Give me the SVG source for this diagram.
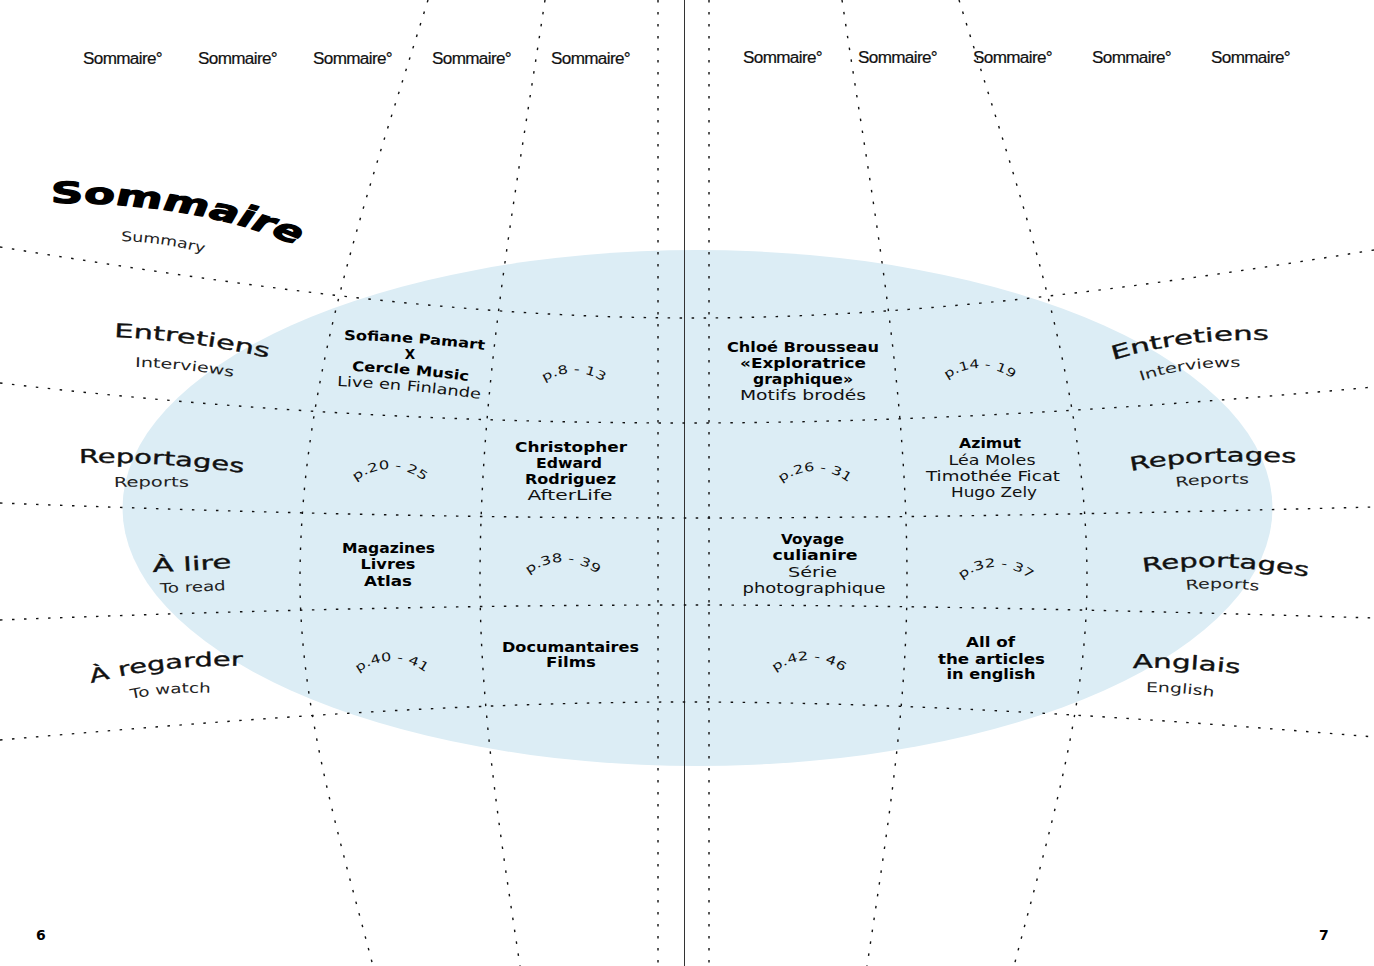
<svg xmlns="http://www.w3.org/2000/svg" width="1374" height="966" viewBox="0 0 1374 966">
<style>
.dot{fill:none;stroke:#111;stroke-width:1.4;stroke-dasharray:2.5 9.5}
.hdr{font-family:"Liberation Sans",Arial,sans-serif;font-size:16px;letter-spacing:-0.6px;fill:#111;stroke:#111;stroke-width:0.2}
.ttl{font-family:"DejaVu Sans",sans-serif;font-weight:bold;font-size:29px;fill:#000;stroke:#000;stroke-width:1.2;stroke-linejoin:round}
.lbl{font-family:"DejaVu Sans",sans-serif;font-size:19px;fill:#111;stroke:#111;stroke-width:0.35}
.sub{font-family:"DejaVu Sans",sans-serif;font-size:13.5px;fill:#222}
.b{font-family:"DejaVu Sans",sans-serif;font-weight:bold;font-size:13.5px;fill:#000}
.r{font-family:"DejaVu Sans",sans-serif;font-size:14px;fill:#111}
.pg{font-family:"DejaVu Sans",sans-serif;font-size:12px;fill:#111}
.num{font-family:"DejaVu Sans",sans-serif;font-weight:bold;font-size:14px;fill:#000}
</style>
<defs>
<path id="pTitle" d="M32.9,203 C83.9,202 148.4,213 196.8,250"/>
<path id="pSum" d="M121,241 Q162,242 204,253"/>
<path id="pEntL" d="M114,337 Q190,340 268,358"/>
<path id="pIntL" d="M135,367 Q185,368 234,377"/>
<path id="pRepL" d="M79,463 Q160,461 243,473"/>
<path id="pRepsL" d="M114,487 Q151,486 189,487"/>
<path id="pLire" d="M153,572 Q192,571 232,568"/>
<path id="pRead" d="M160,593 Q193,592 226,590"/>
<path id="pReg" d="M91,683 Q165,664 242,666"/>
<path id="pWatch" d="M131,699 Q170,691 210,693"/>
<path id="pEntR" d="M1113,360 Q1185,338 1268,340"/>
<path id="pIntR" d="M1141,381 Q1185,366 1241,367"/>
<path id="pRepR1" d="M1131,471 Q1200,458 1297,463"/>
<path id="pRepsR1" d="M1176,487 Q1212,482 1249,484"/>
<path id="pRepR2" d="M1143,572 Q1220,560 1308,577"/>
<path id="pRepsR2" d="M1186,590 Q1222,586 1259,591"/>
<path id="pAng" d="M1133,668 Q1185,667 1240,674"/>
<path id="pEng" d="M1146,692 Q1180,692 1214,697"/>
<path id="pSof" d="M344,340 Q414,341 485,350"/>
<path id="pCer" d="M352,371 Q410,373 469,381"/>
<path id="pLive" d="M337,386 Q408,389 481,399"/>
<path id="a1" d="M526.4,400.5 A55,55 0 0 1 621.6,400.5"/>
<path id="a2" d="M932.4,395.5 A55,55 0 0 1 1027.6,395.5"/>
<path id="a3" d="M342.4,496.5 A55,55 0 0 1 437.6,496.5"/>
<path id="a4" d="M767.4,498.5 A55,55 0 0 1 862.6,498.5"/>
<path id="a5" d="M515.4,589.5 A55,55 0 0 1 610.6,589.5"/>
<path id="a6" d="M948.4,594.5 A55,55 0 0 1 1043.6,594.5"/>
<path id="a7" d="M344.4,688.5 A55,55 0 0 1 439.6,688.5"/>
<path id="a8" d="M761.4,687.5 A55,55 0 0 1 856.6,687.5"/>
</defs>

<rect width="1374" height="966" fill="#fff"/>
<ellipse id="globe" cx="697.5" cy="508" rx="575" ry="258" fill="#dcedf5"/>

<g id="connectors">
<line x1="684.5" y1="0" x2="684.5" y2="966" stroke="#333" stroke-width="1"/>
<path class="dot" d="M428,0 C366,200 300,380 300,580 C300,710 339,836 373,966"/>
<path class="dot" d="M545,0 C515,200 480,380 480,580 C480,710 500.5,836 520,966"/>
<path class="dot" d="M658,0 L658,966"/>
<path class="dot" d="M709,0 L709,966"/>
<path class="dot" d="M842,0 C872,200 907,380 907,580 C907,710 886.5,836 867,966"/>
<path class="dot" d="M959,0 C1021,200 1087,380 1087,580 C1087,710 1048,836 1014,966"/>
<path class="dot" d="M0,247 C230,284 460,318 690,318 C920,318 1144,287 1374,250"/>
<path class="dot" d="M0,383 C230,410 460,423 685,423 C910,423 1144,408 1374,387"/>
<path class="dot" d="M0,503 C230,512 460,518 685,518 C910,518 1144,513 1374,507"/>
<path class="dot" d="M0,620 C230,611 460,605 685,605 C910,605 1144,611 1374,618"/>
<path class="dot" d="M0,740 C230,720 460,702 685,702 C910,702 1144,718 1374,737"/>
</g>

<g id="header">
<text class="hdr" x="83" y="64" textLength="79" lengthAdjust="spacingAndGlyphs">Sommaire°</text>
<text class="hdr" x="198" y="64" textLength="79" lengthAdjust="spacingAndGlyphs">Sommaire°</text>
<text class="hdr" x="313" y="64" textLength="79" lengthAdjust="spacingAndGlyphs">Sommaire°</text>
<text class="hdr" x="432" y="64" textLength="79" lengthAdjust="spacingAndGlyphs">Sommaire°</text>
<text class="hdr" x="551" y="64" textLength="79" lengthAdjust="spacingAndGlyphs">Sommaire°</text>
<text class="hdr" x="743" y="63" textLength="79" lengthAdjust="spacingAndGlyphs">Sommaire°</text>
<text class="hdr" x="858" y="63" textLength="79" lengthAdjust="spacingAndGlyphs">Sommaire°</text>
<text class="hdr" x="973" y="63" textLength="79" lengthAdjust="spacingAndGlyphs">Sommaire°</text>
<text class="hdr" x="1092" y="63" textLength="79" lengthAdjust="spacingAndGlyphs">Sommaire°</text>
<text class="hdr" x="1211" y="63" textLength="79" lengthAdjust="spacingAndGlyphs">Sommaire°</text>
</g>

<g id="title">
<g transform="scale(1.55,1)">
<text class="ttl"><textPath href="#pTitle">Sommaire</textPath></text>
</g>
<text class="sub"><textPath href="#pSum" textLength="84" lengthAdjust="spacingAndGlyphs">Summary</textPath></text>
</g>

<g id="row-entretiens-left">
<text class="lbl"><textPath href="#pEntL" textLength="156" lengthAdjust="spacingAndGlyphs">Entretiens</textPath></text>
<text class="sub"><textPath href="#pIntL" textLength="99" lengthAdjust="spacingAndGlyphs">Interviews</textPath></text>
</g>
<g id="row-reportages-left">
<text class="lbl"><textPath href="#pRepL" textLength="165" lengthAdjust="spacingAndGlyphs">Reportages</textPath></text>
<text class="sub"><textPath href="#pRepsL" textLength="75" lengthAdjust="spacingAndGlyphs">Reports</textPath></text>
</g>
<g id="row-alire">
<text class="lbl"><textPath href="#pLire" textLength="79" lengthAdjust="spacingAndGlyphs">À lire</textPath></text>
<text class="sub"><textPath href="#pRead" textLength="66" lengthAdjust="spacingAndGlyphs">To read</textPath></text>
</g>
<g id="row-aregarder">
<text class="lbl"><textPath href="#pReg" textLength="153" lengthAdjust="spacingAndGlyphs">À regarder</textPath></text>
<text class="sub"><textPath href="#pWatch" textLength="80" lengthAdjust="spacingAndGlyphs">To watch</textPath></text>
</g>
<g id="row-entretiens-right">
<text class="lbl"><textPath href="#pEntR" textLength="158" lengthAdjust="spacingAndGlyphs">Entretiens</textPath></text>
<text class="sub"><textPath href="#pIntR" textLength="101" lengthAdjust="spacingAndGlyphs">Interviews</textPath></text>
</g>
<g id="row-reportages-right-1">
<text class="lbl"><textPath href="#pRepR1" textLength="166" lengthAdjust="spacingAndGlyphs">Reportages</textPath></text>
<text class="sub"><textPath href="#pRepsR1" textLength="73" lengthAdjust="spacingAndGlyphs">Reports</textPath></text>
</g>
<g id="row-reportages-right-2">
<text class="lbl"><textPath href="#pRepR2" textLength="166" lengthAdjust="spacingAndGlyphs">Reportages</textPath></text>
<text class="sub"><textPath href="#pRepsR2" textLength="73" lengthAdjust="spacingAndGlyphs">Reports</textPath></text>
</g>
<g id="row-anglais">
<text class="lbl"><textPath href="#pAng" textLength="107" lengthAdjust="spacingAndGlyphs">Anglais</textPath></text>
<text class="sub"><textPath href="#pEng" textLength="68" lengthAdjust="spacingAndGlyphs">English</textPath></text>
</g>

<g id="cell-sofiane">
<text class="b"><textPath href="#pSof" textLength="141" lengthAdjust="spacingAndGlyphs">Sofiane Pamart</textPath></text>
<text class="b" x="410" y="359" text-anchor="middle">X</text>
<text class="b"><textPath href="#pCer" textLength="117" lengthAdjust="spacingAndGlyphs">Cercle Music</textPath></text>
<text class="r"><textPath href="#pLive" textLength="144" lengthAdjust="spacingAndGlyphs">Live en Finlande</textPath></text>
</g>
<g id="cell-p8"><text class="pg"><textPath href="#a1" startOffset="50%" text-anchor="middle" textLength="62" lengthAdjust="spacingAndGlyphs">p.8 - 13</textPath></text></g>
<g id="cell-chloe">
<text class="b" x="803" y="352" text-anchor="middle" textLength="152" lengthAdjust="spacingAndGlyphs">Chloé Brousseau</text>
<text class="b" x="803" y="368" text-anchor="middle" textLength="126" lengthAdjust="spacingAndGlyphs">«Exploratrice</text>
<text class="b" x="803" y="384" text-anchor="middle" textLength="100" lengthAdjust="spacingAndGlyphs">graphique»</text>
<text class="r" x="803" y="400" text-anchor="middle" textLength="126" lengthAdjust="spacingAndGlyphs">Motifs brodés</text>
</g>
<g id="cell-p14"><text class="pg"><textPath href="#a2" startOffset="50%" text-anchor="middle" textLength="70" lengthAdjust="spacingAndGlyphs">p.14 - 19</textPath></text></g>

<g id="cell-p20"><text class="pg"><textPath href="#a3" startOffset="50%" text-anchor="middle" textLength="74" lengthAdjust="spacingAndGlyphs">p.20 - 25</textPath></text></g>
<g id="cell-christopher">
<text class="b" x="571" y="452" text-anchor="middle" textLength="112" lengthAdjust="spacingAndGlyphs">Christopher</text>
<text class="b" x="569" y="468" text-anchor="middle" textLength="66" lengthAdjust="spacingAndGlyphs">Edward</text>
<text class="b" x="570.5" y="484" text-anchor="middle" textLength="91" lengthAdjust="spacingAndGlyphs">Rodriguez</text>
<text class="r" x="570" y="500" text-anchor="middle" textLength="85" lengthAdjust="spacingAndGlyphs">AfterLife</text>
</g>
<g id="cell-p26"><text class="pg"><textPath href="#a4" startOffset="50%" text-anchor="middle" textLength="72" lengthAdjust="spacingAndGlyphs">p.26 - 31</textPath></text></g>
<g id="cell-azimut">
<text class="b" x="990" y="448" text-anchor="middle" textLength="62" lengthAdjust="spacingAndGlyphs">Azimut</text>
<text class="r" x="992" y="465" text-anchor="middle" textLength="87" lengthAdjust="spacingAndGlyphs">Léa Moles</text>
<text class="r" x="993" y="481" text-anchor="middle" textLength="134" lengthAdjust="spacingAndGlyphs">Timothée Ficat</text>
<text class="r" x="994" y="497" text-anchor="middle" textLength="86" lengthAdjust="spacingAndGlyphs">Hugo Zely</text>
</g>

<g id="cell-magazines">
<text class="b" x="388.5" y="553" text-anchor="middle" textLength="93" lengthAdjust="spacingAndGlyphs">Magazines</text>
<text class="b" x="388" y="569" text-anchor="middle" textLength="55" lengthAdjust="spacingAndGlyphs">Livres</text>
<text class="b" x="388" y="586" text-anchor="middle" textLength="48" lengthAdjust="spacingAndGlyphs">Atlas</text>
</g>
<g id="cell-p38"><text class="pg"><textPath href="#a5" startOffset="50%" text-anchor="middle" textLength="74" lengthAdjust="spacingAndGlyphs">p.38 - 39</textPath></text></g>
<g id="cell-voyage">
<text class="b" x="812.5" y="544" text-anchor="middle" textLength="63" lengthAdjust="spacingAndGlyphs">Voyage</text>
<text class="b" x="815" y="560" text-anchor="middle" textLength="85" lengthAdjust="spacingAndGlyphs">culianire</text>
<text class="r" x="812.5" y="577" text-anchor="middle" textLength="49" lengthAdjust="spacingAndGlyphs">Série</text>
<text class="r" x="814" y="593" text-anchor="middle" textLength="143" lengthAdjust="spacingAndGlyphs">photographique</text>
</g>
<g id="cell-p32"><text class="pg"><textPath href="#a6" startOffset="50%" text-anchor="middle" textLength="74" lengthAdjust="spacingAndGlyphs">p.32 - 37</textPath></text></g>

<g id="cell-p40"><text class="pg"><textPath href="#a7" startOffset="50%" text-anchor="middle" textLength="72" lengthAdjust="spacingAndGlyphs">p.40 - 41</textPath></text></g>
<g id="cell-documentaires">
<text class="b" x="570.5" y="652" text-anchor="middle" textLength="137" lengthAdjust="spacingAndGlyphs">Documantaires</text>
<text class="b" x="571" y="667" text-anchor="middle" textLength="50" lengthAdjust="spacingAndGlyphs">Films</text>
</g>
<g id="cell-p42"><text class="pg"><textPath href="#a8" startOffset="50%" text-anchor="middle" textLength="73" lengthAdjust="spacingAndGlyphs">p.42 - 46</textPath></text></g>
<g id="cell-english">
<text class="b" x="990.5" y="647" text-anchor="middle" textLength="49" lengthAdjust="spacingAndGlyphs">All of</text>
<text class="b" x="991.5" y="664" text-anchor="middle" textLength="107" lengthAdjust="spacingAndGlyphs">the articles</text>
<text class="b" x="991" y="679" text-anchor="middle" textLength="89" lengthAdjust="spacingAndGlyphs">in english</text>
</g>

<g id="page-numbers">
<text class="num" x="36" y="940">6</text>
<text class="num" x="1319" y="940">7</text>
</g>
</svg>
